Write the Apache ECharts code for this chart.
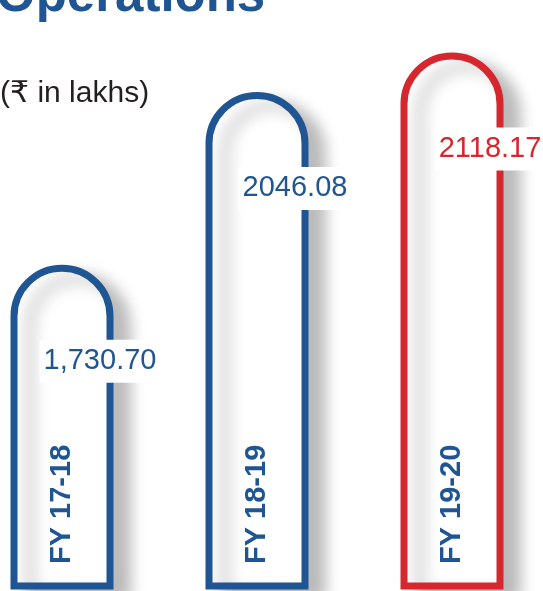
<!DOCTYPE html>
<html><head><meta charset="utf-8">
<script src="https://cdn.jsdelivr.net/npm/echarts@6/dist/echarts.min.js"></script>
<style>html,body{margin:0;padding:0;background:#fff;overflow:hidden}#c{width:543px;height:591px}</style>
</head><body><div id="c"></div>
<script>
const categories = ['FY 17-18', 'FY 18-19', 'FY 19-20'];
const values = [1730.70, 2046.08, 2118.17];
const valueLabels = ['1,730.70', '2046.08', '2118.17'];
const barColors = ['#1f5592', '#1f5592', '#d6262e'];
const titleText = 'Operations';
const unitText = '(₹ in lakhs)';

const BLUE = '#1f5592';
const chart = echarts.init(document.getElementById('c'), null, {renderer: 'canvas'});
chart.setOption({
  animation: false,
  backgroundColor: '#fff',
  graphic: [
    {type: 'text', left: -4, top: -29, z: 10,
     style: {text: titleText, fill: BLUE, font: 'bold 51px "Liberation Sans", Arial, sans-serif'}},
    {type: 'text', left: 0, top: 79, z: 10,
     style: {text: unitText, fill: '#231f20', font: '30px "Liberation Sans", Arial, "DejaVu Sans", sans-serif'}}
  ],
  grid: {left: 62, right: 91, top: 0, bottom: 5},
  xAxis: {
    type: 'category', data: categories, boundaryGap: false, z: 10,
    axisLine: {show: false}, axisTick: {show: false}, splitLine: {show: false},
    axisLabel: {inside: true, rotate: 90, margin: 22, color: BLUE, fontSize: 29, fontWeight: 'bold',
      fontFamily: '"Liberation Sans", Arial, sans-serif'}
  },
  yAxis: {type: 'value', min: 1144, max: 2214, show: false, splitLine: {show: false}},
  series: [{
    type: 'bar', barWidth: 103, clip: true,
    data: values.map((v, i) => ({value: v, itemStyle: {borderColor: barColors[i]}, label: {color: barColors[i]}})),
    itemStyle: {color: '#fff', borderWidth: 7, borderRadius: [52, 52, 0, 0],
      shadowColor: 'rgba(0,0,0,0.26)', shadowBlur: 16, shadowOffsetX: 16, shadowOffsetY: 10},
    label: {show: true, position: 'insideTop', offset: [38, 70], fontSize: 29,
      fontFamily: '"Liberation Sans", Arial, sans-serif', backgroundColor: '#fff', padding: [7, 4, 7, 4],
      formatter: p => valueLabels[p.dataIndex]}
  }]
});
</script></body></html>
